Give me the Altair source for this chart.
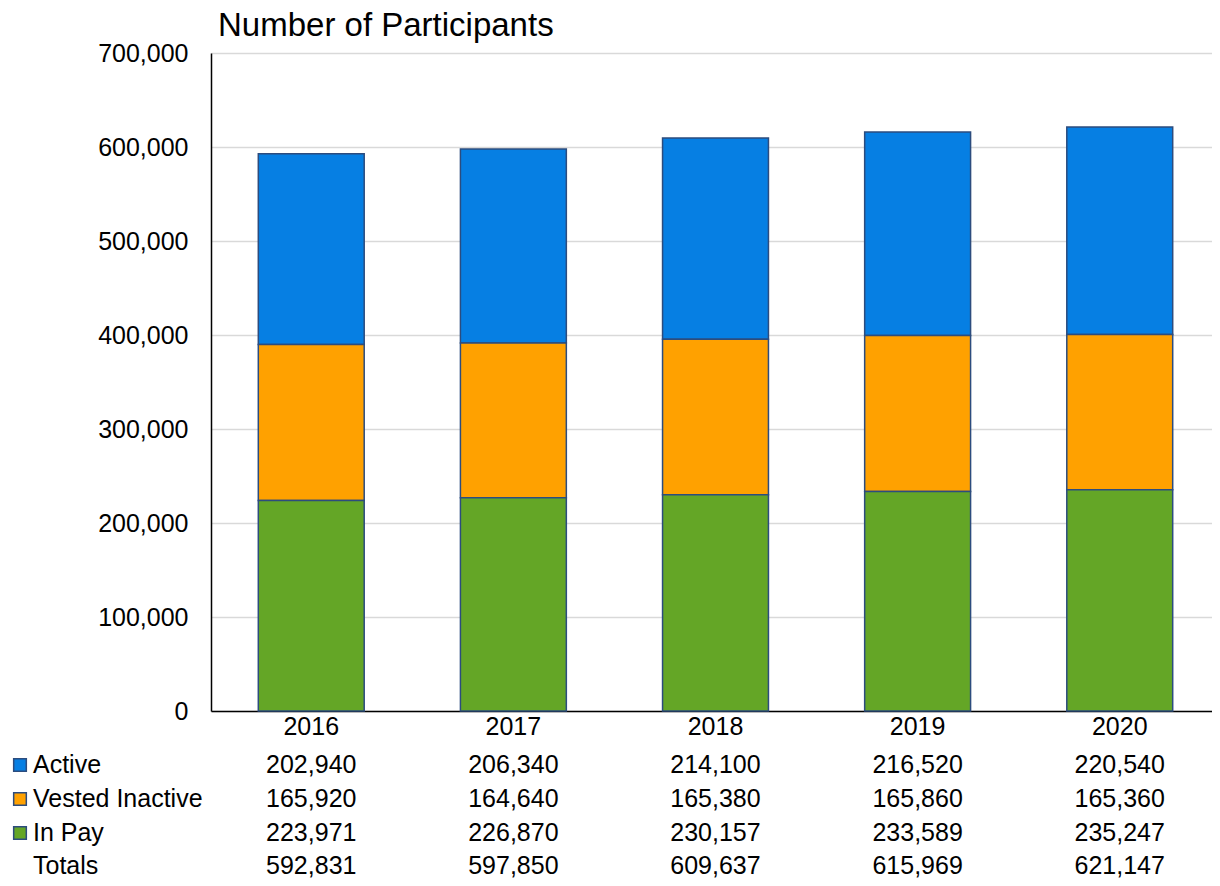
import altair as alt
import pandas as pd

years = ["2016", "2017", "2018", "2019", "2020"]
active = [202940, 206340, 214100, 216520, 220540]
vested_inactive = [165920, 164640, 165380, 165860, 165360]
in_pay = [223971, 226870, 230157, 233589, 235247]
totals = [592831, 597850, 609637, 615969, 621147]

series_names = ["Active", "Vested Inactive", "In Pay"]
series_colors = ["#067FE3", "#FFA100", "#64A626"]
stack_order = {"In Pay": 0, "Vested Inactive": 1, "Active": 2}

rows = []
for name, vals in zip(series_names, [active, vested_inactive, in_pay]):
    for y, v in zip(years, vals):
        rows.append({"year": y, "series": name, "value": v, "ord": stack_order[name]})
df = pd.DataFrame(rows)
tot_df = pd.DataFrame({"year": years, "value": totals, "series": "Totals"})

FONT = "Liberation Sans"
EDGE = "#2C4C7E"
FS = 25

x_enc = alt.X("year:N", title=None,
              scale=alt.Scale(paddingInner=0.476, paddingOuter=0.234),
              axis=alt.Axis(labelAngle=0, ticks=False, domainColor="black", domainWidth=1.5,
                            labelFontSize=FS, labelFont=FONT, labelColor="black", labelPadding=3))

bars = alt.Chart(df).mark_bar(stroke=EDGE, strokeWidth=1.5).encode(
    x=x_enc,
    y=alt.Y("value:Q", stack="zero", title=None,
            scale=alt.Scale(domain=[0, 700000], nice=False),
            axis=alt.Axis(values=list(range(0, 700001, 100000)), format=",d", ticks=False,
                          domainColor="black", domainWidth=1.5, gridColor="#D9D9D9", gridWidth=1.5,
                          labelFontSize=FS, labelFont=FONT, labelColor="black", labelPadding=23)),
    color=alt.Color("series:N", scale=alt.Scale(domain=series_names, range=series_colors), legend=None),
    order=alt.Order("ord:Q"),
)

row_y = {"Active": 712, "Vested Inactive": 746, "In Pay": 780, "Totals": 813}

layers = [bars]
for name in series_names:
    layers.append(
        alt.Chart(df[df.series == name]).mark_text(fontSize=FS, font=FONT, color="black", baseline="middle").encode(
            x=alt.X("year:N"), y=alt.value(row_y[name]), text=alt.Text("value:Q", format=",d")
        )
    )
layers.append(
    alt.Chart(tot_df).mark_text(fontSize=FS, font=FONT, color="black", baseline="middle").encode(
        x=alt.X("year:N"), y=alt.value(row_y["Totals"]), text=alt.Text("value:Q", format=",d")
    )
)

label_df = pd.DataFrame({"label": series_names + ["Totals"]})
for lab in series_names + ["Totals"]:
    layers.append(
        alt.Chart(label_df[label_df.label == lab]).mark_text(fontSize=FS, font=FONT, color="black",
                                                             align="left", baseline="middle").encode(
            x=alt.value(-178), y=alt.value(row_y[lab]), text="label:N"
        )
    )

for name, col in zip(series_names, series_colors):
    layers.append(
        alt.Chart(label_df[label_df.label == name]).mark_square(size=160, filled=True, color=col,
                                                                stroke=EDGE, strokeWidth=1.5, opacity=1).encode(
            x=alt.value(-191), y=alt.value(row_y[name])
        )
    )

title_df = pd.DataFrame({"t": ["Number of Participants"]})
layers.append(
    alt.Chart(title_df).mark_text(fontSize=33, font=FONT, color="black", align="left", baseline="middle").encode(
        x=alt.value(7), y=alt.value(-27), text="t:N"
    )
)

chart = alt.layer(*layers).properties(
    width=1009, height=658,
    autosize=alt.AutoSizeParams(type="none"),
    padding={"left": 203, "top": 45, "right": -8, "bottom": 167},
).configure_view(stroke=None)

chart.save("out.html", embed_options={"renderer": "svg", "actions": False})
